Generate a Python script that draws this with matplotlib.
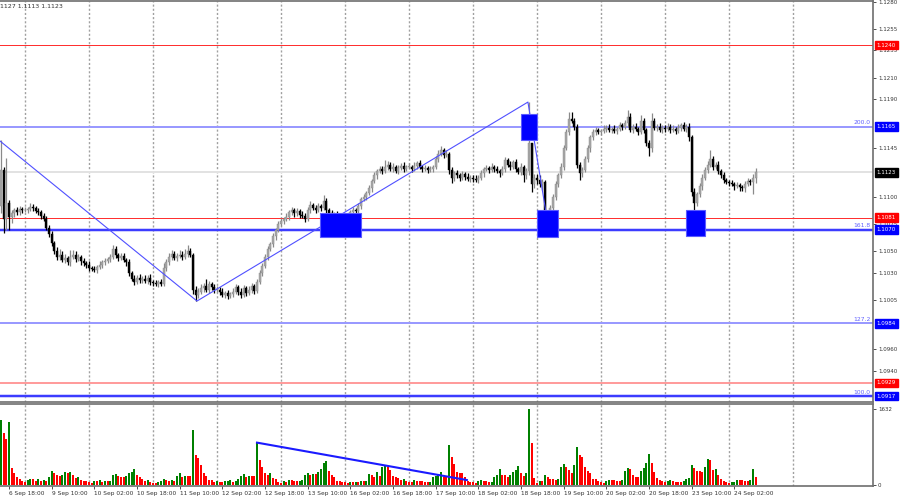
import numpy as np
import matplotlib.pyplot as plt
import matplotlib.transforms as mtransforms
from matplotlib.patches import Rectangle

# EURUSD H1, prices in pips above 1.1000; one row per trading day
open_first = 92
closes = [125, 80, 95, 82, 85, 88, 86, 89, 88,
          88, 89, 91, 90, 87, 86, 83, 80, 72, 66, 58, 50, 45, 47, 42, 44, 40, 45, 47, 43, 45, 41, 39, 38,
          35, 34, 33, 36, 38, 40, 41, 43, 45, 52, 47, 44, 46, 42, 40, 30, 25, 22, 26, 24, 25, 23, 26, 22,
          21, 20, 22, 20, 35, 40, 45, 48, 44, 46, 47, 45, 48, 50, 47, 15, 10, 13, 16, 18, 15, 20, 17, 15,
          15, 13, 10, 12, 9, 11, 13, 17, 13, 10, 16, 12, 15, 18, 14, 22, 30, 37, 45, 52, 57, 64, 70, 75,
          78, 80, 82, 86, 88, 85, 87, 84, 83, 80, 88, 93, 90, 88, 92, 90, 96, 88, 85, 82, 84, 80, 82, 78,
          79, 81, 86, 88, 87, 92, 98, 100, 104, 108, 115, 120, 124, 126, 124, 128, 130, 126, 128, 124, 127, 129, 126, 128,
          128, 126, 129, 131, 128, 126, 127, 125, 126, 128, 135, 140, 143, 139, 140, 125, 118, 122, 120, 118, 121, 119, 117, 118,
          117, 116, 118, 122, 126, 127, 125, 128, 126, 124, 122, 126, 134, 130, 128, 132, 126, 123, 128, 120, 124, 150, 112, 118,
          116, 112, 114, 80, 78, 90, 100, 112, 120, 128, 145, 160, 172, 170, 165, 130, 122, 125, 135, 145, 155, 160, 162, 160,
          161, 163, 164, 162, 163, 161, 163, 166, 165, 168, 174, 162, 165, 163, 160, 170, 162, 150, 145, 170, 164, 165, 162, 164,
          163, 165, 162, 163, 161, 164, 166, 163, 165, 155, 105, 95, 103, 110, 118, 125, 130, 135, 128, 130, 124, 120, 116, 114,
          113, 112, 110, 111, 109, 108, 112, 115, 114, 118, 123]
wick_up = [28, 3, 41, 2, 3, 2, 3, 3, 2,
           3, 2, 4, 3, 2, 3, 2, 2, 3, 2, 3, 2, 4, 5, 3, 4, 2, 6, 4, 3, 3, 2, 3, 2,
           3, 2, 3, 2, 3, 2, 3, 2, 3, 4, 3, 2, 3, 3, 2, 3, 2, 3, 2, 3, 2, 3, 2, 3,
           2, 3, 2, 3, 4, 3, 4, 3, 2, 3, 4, 3, 4, 6, 3, 2, 3, 3, 4, 3, 7, 3, 2, 3,
           3, 2, 3, 2, 3, 2, 3, 3, 2, 3, 3, 2, 3, 3, 2, 3, 3, 2, 3, 3, 2, 3, 2, 3,
           3, 2, 3, 2, 3, 2, 3, 2, 3, 2, 3, 3, 2, 3, 3, 2, 6, 3, 2, 3, 2, 3, 2, 3,
           2, 3, 2, 3, 2, 3, 2, 3, 2, 3, 2, 3, 2, 3, 3, 6, 3, 2, 3, 2, 3, 2, 3, 2,
           3, 2, 3, 2, 3, 2, 3, 2, 3, 2, 3, 3, 4, 2, 3, 2, 3, 2, 3, 2, 3, 2, 3, 2,
           2, 3, 2, 3, 2, 3, 2, 3, 2, 3, 2, 3, 3, 2, 3, 2, 3, 2, 3, 2, 3, 38, 0, 3,
           3, 4, 3, 2, 2, 3, 3, 3, 2, 3, 3, 3, 6, 6, 3, 2, 2, 3, 3, 3, 2, 3, 3, 2,
           2, 3, 2, 3, 2, 3, 2, 3, 2, 3, 6, 3, 2, 3, 2, 6, 3, 2, 3, 7, 3, 2, 3, 2,
           2, 3, 2, 3, 2, 3, 2, 3, 2, 3, 2, 3, 2, 3, 3, 3, 3, 8, 3, 2, 3, 2, 3, 2,
           2, 3, 2, 3, 2, 2, 3, 3, 2, 3, 4]
wick_dn = [7, 13, 10, 12, 6, 3, 2, 2, 3,
           2, 3, 2, 3, 2, 2, 3, 2, 2, 3, 3, 2, 3, 3, 2, 3, 2, 3, 2, 3, 2, 3, 2, 3,
           3, 2, 2, 3, 2, 3, 2, 2, 3, 2, 3, 3, 2, 2, 3, 3, 2, 3, 2, 3, 3, 2, 3, 3,
           3, 2, 3, 2, 2, 3, 2, 3, 2, 3, 2, 3, 2, 3, 2, 4, 6, 3, 2, 3, 2, 3, 2, 3,
           2, 3, 2, 3, 3, 2, 3, 2, 3, 3, 2, 3, 2, 3, 3, 2, 2, 3, 2, 3, 2, 3, 3, 2,
           2, 3, 2, 3, 2, 3, 2, 3, 2, 3, 2, 3, 2, 3, 2, 3, 2, 3, 3, 4, 2, 3, 4, 3,
           3, 2, 3, 2, 3, 2, 3, 2, 3, 2, 3, 2, 3, 2, 3, 2, 3, 2, 3, 2, 3, 2, 3, 2,
           2, 3, 2, 3, 2, 3, 2, 3, 2, 3, 2, 3, 2, 3, 2, 4, 5, 3, 2, 3, 2, 3, 2, 3,
           3, 2, 3, 2, 3, 2, 3, 2, 3, 2, 3, 2, 3, 2, 3, 2, 3, 2, 3, 6, 3, 4, 7, 4,
           4, 3, 5, 5, 8, 3, 2, 3, 3, 2, 3, 2, 3, 2, 3, 3, 6, 3, 2, 3, 3, 2, 3, 2,
           3, 2, 3, 2, 3, 2, 3, 2, 3, 2, 3, 2, 3, 2, 3, 2, 3, 3, 7, 3, 2, 3, 2, 3,
           3, 2, 3, 2, 3, 2, 3, 2, 3, 3, 4, 12, 3, 3, 3, 2, 3, 2, 3, 2, 3, 2, 3, 2,
           3, 2, 3, 2, 3, 2, 3, 2, 3, 11, 5]
volumes = [1398, 1111, 982, 1362, 358, 251, 165, 122, 93,
           72, 108, 122, 122, 93, 122, 93, 108, 93, 179, 301, 251, 215, 194, 215, 287, 265, 280, 215, 143, 165, 108, 93, 79,
           72, 50, 93, 86, 108, 65, 93, 86, 93, 215, 229, 194, 179, 165, 194, 251, 287, 337, 215, 165, 122, 93, 108, 72,
           50, 43, 65, 93, 136, 108, 93, 108, 93, 194, 265, 179, 194, 194, 190, 1183, 645, 574, 430, 251, 194, 108, 108, 72,
           79, 65, 65, 86, 93, 108, 65, 93, 122, 194, 237, 179, 194, 194, 194, 911, 538, 394, 251, 215, 251, 143, 122, 72,
           36, 93, 72, 108, 108, 93, 79, 93, 108, 215, 265, 215, 237, 237, 287, 337, 466, 523, 308, 215, 165, 93, 79, 72,
           65, 50, 72, 58, 72, 65, 93, 79, 93, 237, 215, 165, 287, 194, 394, 409, 394, 323, 194, 165, 143, 108, 122, 93,
           65, 65, 108, 93, 93, 79, 72, 65, 72, 165, 194, 215, 287, 165, 165, 860, 609, 452, 287, 265, 265, 165, 93, 65,
           58, 50, 93, 108, 93, 79, 65, 72, 165, 215, 337, 215, 208, 165, 215, 287, 323, 409, 265, 194, 251, 1632, 896, 143,
           50, 93, 93, 215, 179, 122, 122, 108, 122, 394, 452, 380, 323, 251, 423, 824, 645, 595, 380, 308, 251, 122, 122, 93,
           65, 50, 79, 108, 108, 108, 79, 79, 108, 308, 358, 337, 215, 179, 179, 308, 358, 480, 667, 480, 287, 143, 108, 93,
           72, 93, 108, 93, 72, 65, 65, 79, 122, 143, 430, 358, 308, 308, 287, 394, 552, 538, 323, 337, 215, 122, 93, 72,
           50, 58, 72, 108, 108, 108, 93, 93, 108, 337, 165]

date_labels = ["6 Sep 18:00", "9 Sep 10:00", "10 Sep 02:00", "10 Sep 18:00", "11 Sep 10:00",
               "12 Sep 02:00", "12 Sep 18:00", "13 Sep 10:00", "16 Sep 02:00", "16 Sep 18:00",
               "17 Sep 10:00", "18 Sep 02:00", "18 Sep 18:00", "19 Sep 10:00", "20 Sep 02:00",
               "20 Sep 18:00", "23 Sep 10:00", "24 Sep 02:00"]
price_ticks = [1.1280, 1.1255, 1.1235, 1.1210, 1.1190, 1.1145, 1.1100,
               1.1075, 1.1050, 1.1030, 1.1005, 1.0960, 1.0940]

# horizontal levels: price, line colour, width, fib text, box colour
levels = [(1.1240, "#ff3030", 1.0, "", "#ff0000"),
          (1.1165, "#9999ff", 2.0, "200.0", "#0000ff"),
          (1.1123, "#e2e2e2", 2.0, "", "#000000"),
          (1.1081, "#ff3030", 1.0, "", "#ff0000"),
          (1.1070, "#3c3cff", 2.5, "161.8", "#0000ff"),
          (1.0984, "#9999ff", 2.0, "127.2", "#0000ff"),
          (1.0929, "#ff9c9c", 2.0, "", "#ff0000"),
          (1.0917, "#3c3cff", 2.5, "100.0", "#0000ff")]

# fib trend line points (bar, price) and zones (bar0, bar1, low, high)
trend_x = [-0.4, 73.5, 197.6, 204.4]
trend_y = [1.11517, 1.10044, 1.11875, 1.10854]
zones = [(119.6, 135.0, 1.10633, 1.10854),
         (195.0, 201.0, 1.11526, 1.11765),
         (201.0, 208.8, 1.10633, 1.10882),
         (256.8, 264.0, 1.10640, 1.10880)]
vol_line_x = [96, 174.7]
vol_line_y = [911, 107]

c = 1.1 + np.array(closes) / 10000
o = np.r_[1.1 + open_first / 10000, c[:-1]]
h = np.maximum(o, c) + np.array(wick_up) / 10000
l = np.minimum(o, c) - np.array(wick_dn) / 10000
v = np.array(volumes)
x = np.arange(len(c))
bull = c >= o

fig = plt.figure(figsize=(9, 5), dpi=100)
ax = fig.add_axes([0, 1 - 402 / 500, 873 / 900, 401 / 500])
axv = fig.add_axes([0, 1 - 486 / 500, 873 / 900, 82 / 500], sharex=ax)

xmax = 327.0
ax.set_xlim(-0.375, xmax)
ax.set_ylim(1.09115, 1.12805)
axv.set_ylim(-21, 1741)

# day grid
for d in range(9, 300, 24):
    for a in (ax, axv):
        a.axvline(d, color="#a0a0a0", lw=1, ls=(0, (1.5, 1.5)), zorder=0)

for price, col, lw, fib, box in levels:
    ax.axhline(price, color=col, lw=lw * 0.72, zorder=1)

# candles
wick_col = np.where(bull, "#8a8a8a", "#000000")
ax.vlines(x, l, h, colors=wick_col, lw=0.9, zorder=3)
body_h = np.maximum(np.abs(c - o), 0.00003)
ax.bar(x, body_h, bottom=np.minimum(o, c), width=0.74,
       color=np.where(bull, "#a8a8a8", "#000000"),
       edgecolor=np.where(bull, "#8a8a8a", "#000000"), linewidth=0.3, zorder=4)

ax.plot(trend_x, trend_y, color="#5050ff", lw=0.8, zorder=5)
for b0, b1, lo, hi in zones:
    ax.add_patch(Rectangle((b0, lo), b1 - b0, hi - lo, facecolor="#0000ff",
                           edgecolor="#5a5aff", lw=0.8, zorder=6))

# right scale
ax.yaxis.tick_right()
ax.set_yticks(price_ticks)
ax.set_yticklabels(["%.4f" % p for p in price_ticks])
ax.tick_params(axis="y", length=2, width=0.6, pad=1.5, labelsize=4, colors="#333333")
ax.tick_params(axis="x", bottom=False, labelbottom=False)
trans = mtransforms.blended_transform_factory(ax.transAxes, ax.transData)
for price, col, lw, fib, box in levels:
    ax.text(1.004, price, "%.4f" % price, transform=trans, ha="left", va="center",
            fontsize=4, color="white", zorder=10, clip_on=False,
            bbox=dict(boxstyle="square,pad=0.35", fc=box, ec=box))
    if fib:
        ax.text(0.997, price + 0.00012, fib, transform=trans, ha="right", va="bottom",
                fontsize=4.3, color="#6060ff", zorder=10)

for a in (ax, axv):
    a.spines["left"].set_visible(False)
    for s in ("top", "right", "bottom"):
        a.spines[s].set_color("#6e6e6e")
        a.spines[s].set_linewidth(1.2)

# volumes
vcol = ["#008000"] + ["#008000" if v[i] > v[i - 1] else "#ff0000" for i in range(1, len(v))]
axv.bar(x, v, width=0.72, color=vcol, zorder=3)
axv.plot(vol_line_x, vol_line_y, color="#1a1aff", lw=1.5, zorder=5)
axv.yaxis.tick_right()
axv.set_yticks([1632, 0])
axv.set_yticklabels(["1632", "0"])
axv.tick_params(axis="y", length=2, width=0.6, pad=1.5, labelsize=4, colors="#333333")

tick_bars = [3 + 16 * k for k in range(len(date_labels))]
axv.set_xticks(tick_bars)
axv.set_xticklabels(date_labels, ha="left")
axv.tick_params(axis="x", length=2, width=0.6, pad=1.5, labelsize=4.2, colors="#333333")

fig.text(0.0, 1 - 7 / 500, "1127 1.1113 1.1123", fontsize=4.5, color="#333333", va="center")

fig.savefig("out.png", dpi=100)
